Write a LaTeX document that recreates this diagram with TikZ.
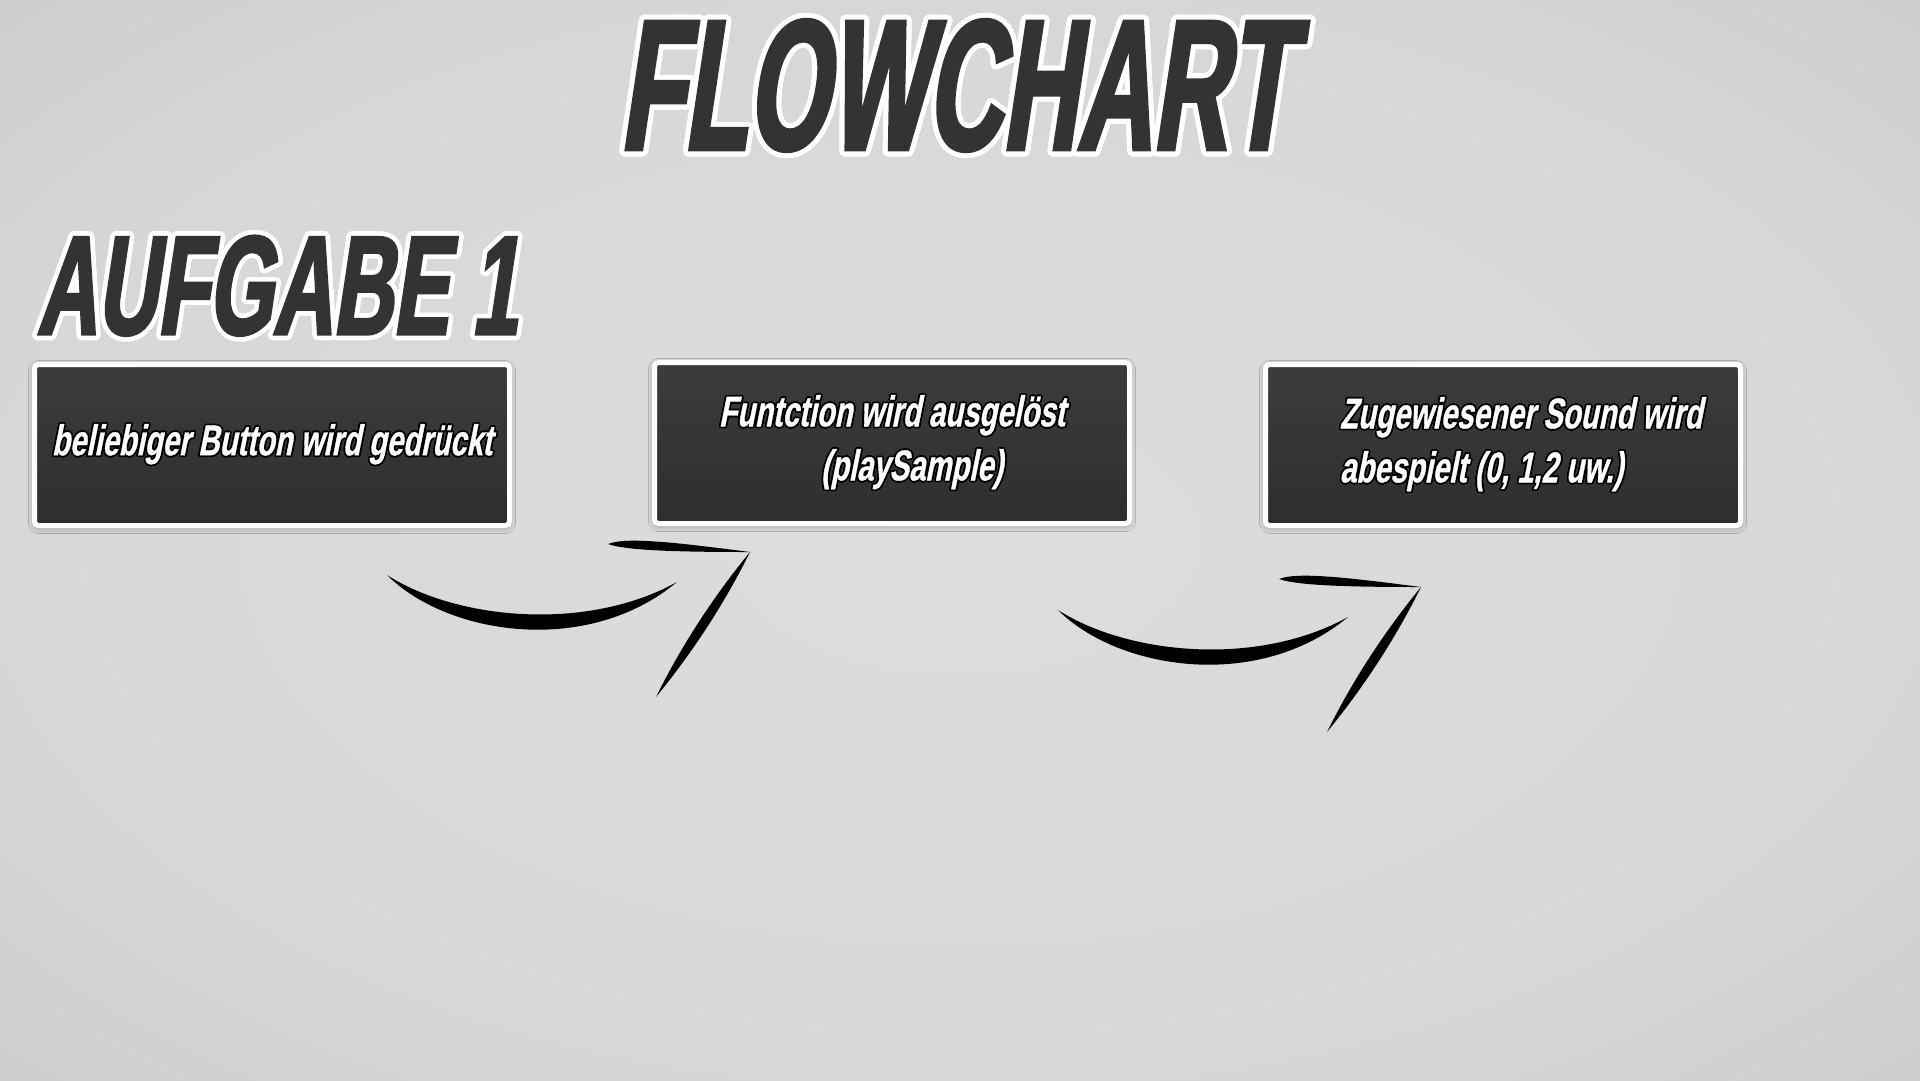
\documentclass[tikz,border=0pt]{standalone}
\usepackage{fontspec}
\usepackage[copies]{contour}
\usetikzlibrary{shadows.blur}
\newfontfamily\headfont[FakeStretch=0.56,FakeSlant=0.15,FakeBold=2]{Liberation Sans}
\newfontfamily\taskfont[FakeStretch=0.59,FakeSlant=0.15,FakeBold=2]{Liberation Sans}
\newfontfamily\boxfont[FakeStretch=0.68,FakeSlant=0.2,FakeBold=0.8]{Liberation Sans}
\definecolor{bgmid}{HTML}{DDDDDD}
\definecolor{bgring}{HTML}{D7D7D7}
\definecolor{bgedge}{HTML}{C0C0C0}
\definecolor{bgcorner}{HTML}{989898}
\definecolor{darktext}{HTML}{333333}
\definecolor{boxtop}{HTML}{3C3C3C}
\definecolor{boxbottom}{HTML}{2E2E2E}
\pgfdeclareradialshading{vignette}{\pgfpoint{0bp}{0bp}}{color(0bp)=(bgmid); color(25bp)=(bgring); color(50bp)=(bgedge); color(71bp)=(bgcorner)}
\contournumber{32}
\tikzset{
	stepbox/.style={rectangle,rounded corners=4pt,draw=white,line width=5pt,top color=boxtop,bottom color=boxbottom,minimum width=475pt,minimum height=161pt,inner sep=0pt,text=white,font=\boxfont\bfseries\fontsize{43}{54}\selectfont,blur shadow={shadow xshift=0pt,shadow yshift=-2pt,shadow blur radius=6pt,shadow opacity=35}},
	titletext/.style={inner sep=0pt,text=darktext,font=\headfont\bfseries\fontsize{186}{186}\selectfont},
	headtext/.style={inner sep=0pt,text=darktext,font=\taskfont\bfseries\fontsize{141}{141}\selectfont},
	sketcharrow/.pic={
		\fill (0,0) .. controls (60,60) and (200,82) .. (290,7) .. controls (200,57) and (70,45) .. (0,0);
		\fill (221,-31) .. controls (240,-39) and (300,-31) .. (363,-23) .. controls (300,-23) and (240,-24) .. (221,-31);
		\fill (363,-23) .. controls (326.5,21.5) and (294.5,70.5) .. (269,122) .. controls (305.5,77.5) and (337.5,28.5) .. (363,-23);
	}
}

\begin{document}
\begin{tikzpicture}[x=1pt,y=-1pt]
	\useasboundingbox (0,0) rectangle (1920,1080);
	\shade[shading=vignette] (0,0) rectangle (1920,1080);
	
	%%Title
	\node[titletext] (title) at (955,88) {\contourlength{5pt}\contour{white}{FLOWCHART}};
	\node[headtext] (task) at (277,288) {\contourlength{4.5pt}\contour{white}{AUFGABE 1}};
	
	%%Boxes
	\contourlength{1.6pt}
	\node[stepbox] (press) at (272,445) {\contour{black}{beliebiger Button wird gedrückt}};
	\node[stepbox,align=center] (func) at (892,443) {\contour{black}{Funtction wird ausgelöst}\\\hspace*{40pt}\contour{black}{(playSample)}};
	\node[stepbox,align=left] (sound) at (1503,445) {\hspace*{36pt}\contour{black}{Zugewiesener Sound wird}\\\hspace*{36pt}\contour{black}{abespielt (0, 1,2 uw.)}};
	
	%%Arrows between boxes
	\coordinate (a1) at (387,575);
	\coordinate (a2) at (1058,610);
	\pic at (a1) {sketcharrow};
	\pic at (a2) {sketcharrow};
	
\end{tikzpicture}
\end{document}
